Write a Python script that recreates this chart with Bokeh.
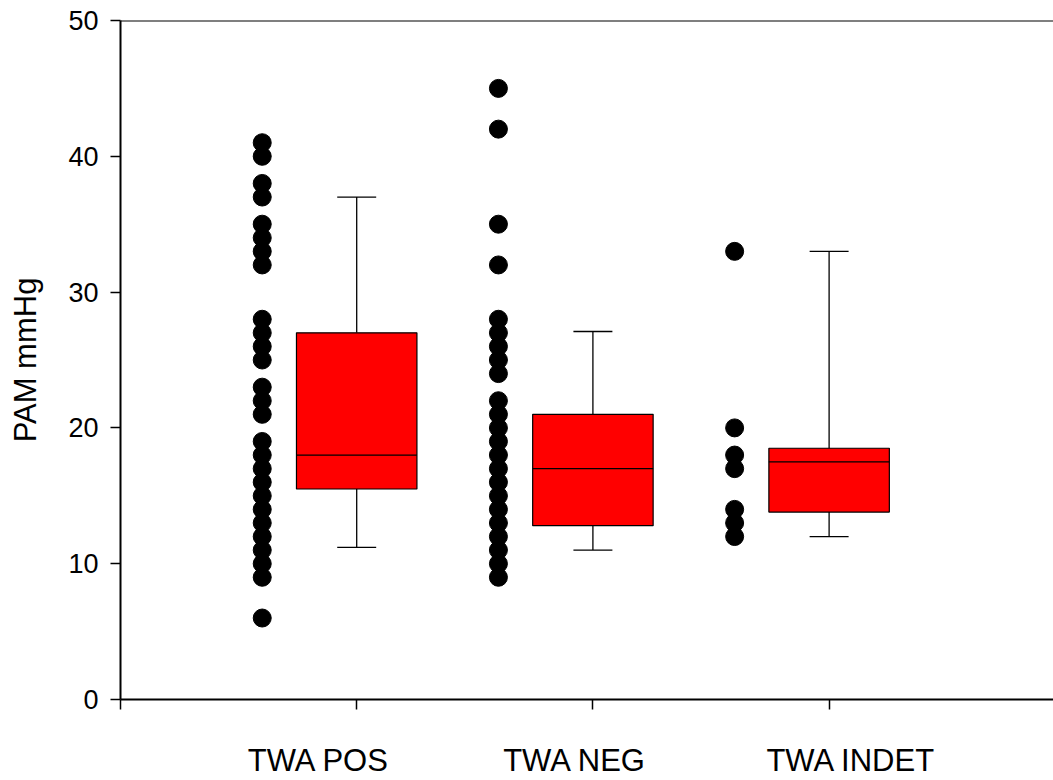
from bokeh.plotting import figure
from bokeh.models import Range1d, FixedTicker, Span, ColumnDataSource, LinearAxis
from bokeh.embed import file_html
from bokeh.resources import INLINE

# ---- data ----
categories = ["TWA POS", "TWA NEG", "TWA INDET"]

pos_points = [41, 40, 38, 37, 35, 34, 33, 32, 28, 27, 26, 25, 23, 22, 21,
              19, 18, 17, 16, 15, 14, 13, 12, 11, 10, 9, 6]
neg_points = [45, 42, 35, 32, 28, 27, 26, 25, 24, 22, 21, 20, 19, 18, 17,
              16, 15, 14, 13, 12, 11, 10, 9]
indet_points = [33, 20, 18, 17, 14, 13, 12]

whisker_low = [11.2, 11.0, 12.0]
q1 = [15.5, 12.8, 13.8]
median = [18.0, 17.0, 17.5]
q3 = [27.0, 21.0, 18.5]
whisker_high = [37.0, 27.1, 33.0]

y_ticks = [0, 10, 20, 30, 40, 50]

# ---- layout constants ----
FONT = "Liberation Sans"
W, H = 1053, 780
LEFT = 120
X_END = 3.95
pos_x = [1, 2, 3]
dot_offset = -0.4
box_w = 0.51
cap_w = 0.165
label_shift_px = [-38, -18, 22]   # captions sit a little off their ticks
px_per_unit = (W - LEFT) / X_END

p = figure(width=W, height=H, output_backend="svg", toolbar_location=None,
           x_range=Range1d(0, X_END), y_range=Range1d(0, 50),
           min_border_left=LEFT, min_border_right=0,
           min_border_top=20, min_border_bottom=80)
p.grid.visible = False
p.outline_line_color = None
p.background_fill_color = "white"
p.border_fill_color = "white"

# points
all_pts = [pos_points, neg_points, indet_points]
dx, dy = [], []
for i, pts in enumerate(all_pts):
    for v in pts:
        dx.append(pos_x[i] + dot_offset)
        dy.append(v)
p.scatter(x=dx, y=dy, size=18, marker="circle", fill_color="black", line_color="black")

# boxes
src = ColumnDataSource(dict(
    x=pos_x, q1=q1, q3=q3, med=median, lo=whisker_low, hi=whisker_high,
    l=[c - box_w / 2 for c in pos_x], r=[c + box_w / 2 for c in pos_x],
    cl=[c - cap_w / 2 for c in pos_x], cr=[c + cap_w / 2 for c in pos_x],
))
p.segment(x0="x", y0="q3", x1="x", y1="hi", source=src, line_color="black", line_width=1.3)
p.segment(x0="x", y0="q1", x1="x", y1="lo", source=src, line_color="black", line_width=1.3)
p.segment(x0="cl", y0="hi", x1="cr", y1="hi", source=src, line_color="black", line_width=1.3)
p.segment(x0="cl", y0="lo", x1="cr", y1="lo", source=src, line_color="black", line_width=1.3)
p.vbar(x="x", width=box_w, top="q3", bottom="q1", source=src,
       fill_color="#FF0000", line_color="black", line_width=1.2)
p.segment(x0="l", y0="med", x1="r", y1="med", source=src, line_color="black", line_width=1.3)

# top frame line
p.add_layout(Span(location=50, dimension="width", line_color="black", line_width=2))

# x axis (line + ticks only)
xa = p.xaxis[0]
xa.ticker = FixedTicker(ticks=[0] + pos_x)
xa.major_label_overrides = {t: "" for t in [0] + pos_x}
xa.major_label_text_font_size = "1px"
xa.major_label_standoff = 0
xa.axis_line_width = 2
xa.major_tick_line_width = 1.5
xa.major_tick_out = 10
xa.major_tick_in = 0
xa.minor_tick_line_color = None

# second, invisible axis carrying the category captions
cap_pos = [pos_x[i] + label_shift_px[i] / px_per_unit for i in range(3)]
xa2 = LinearAxis(ticker=FixedTicker(ticks=cap_pos),
                 major_label_overrides={cap_pos[i]: categories[i] for i in range(3)},
                 axis_line_color=None, major_tick_line_color=None,
                 minor_tick_line_color=None, major_tick_out=0, major_tick_in=0,
                 major_label_standoff=33,
                 major_label_text_font=FONT, major_label_text_font_size="31px",
                 major_label_text_color="black")
p.add_layout(xa2, "below")

# y axis
ya = p.yaxis[0]
ya.ticker = FixedTicker(ticks=y_ticks)
ya.axis_line_width = 2
ya.major_tick_line_width = 1.5
ya.major_tick_out = 10
ya.major_tick_in = 0
ya.minor_tick_line_color = None
ya.major_label_text_font = FONT
ya.major_label_text_font_size = "27px"
ya.major_label_text_color = "black"
ya.major_label_standoff = 12
ya.axis_label = "PAM mmHg"
ya.axis_label_text_font = FONT
ya.axis_label_text_font_size = "31px"
ya.axis_label_text_font_style = "normal"
ya.axis_label_text_color = "black"
ya.axis_label_standoff = 22

open("out.html", "w").write(file_html(p, INLINE))
